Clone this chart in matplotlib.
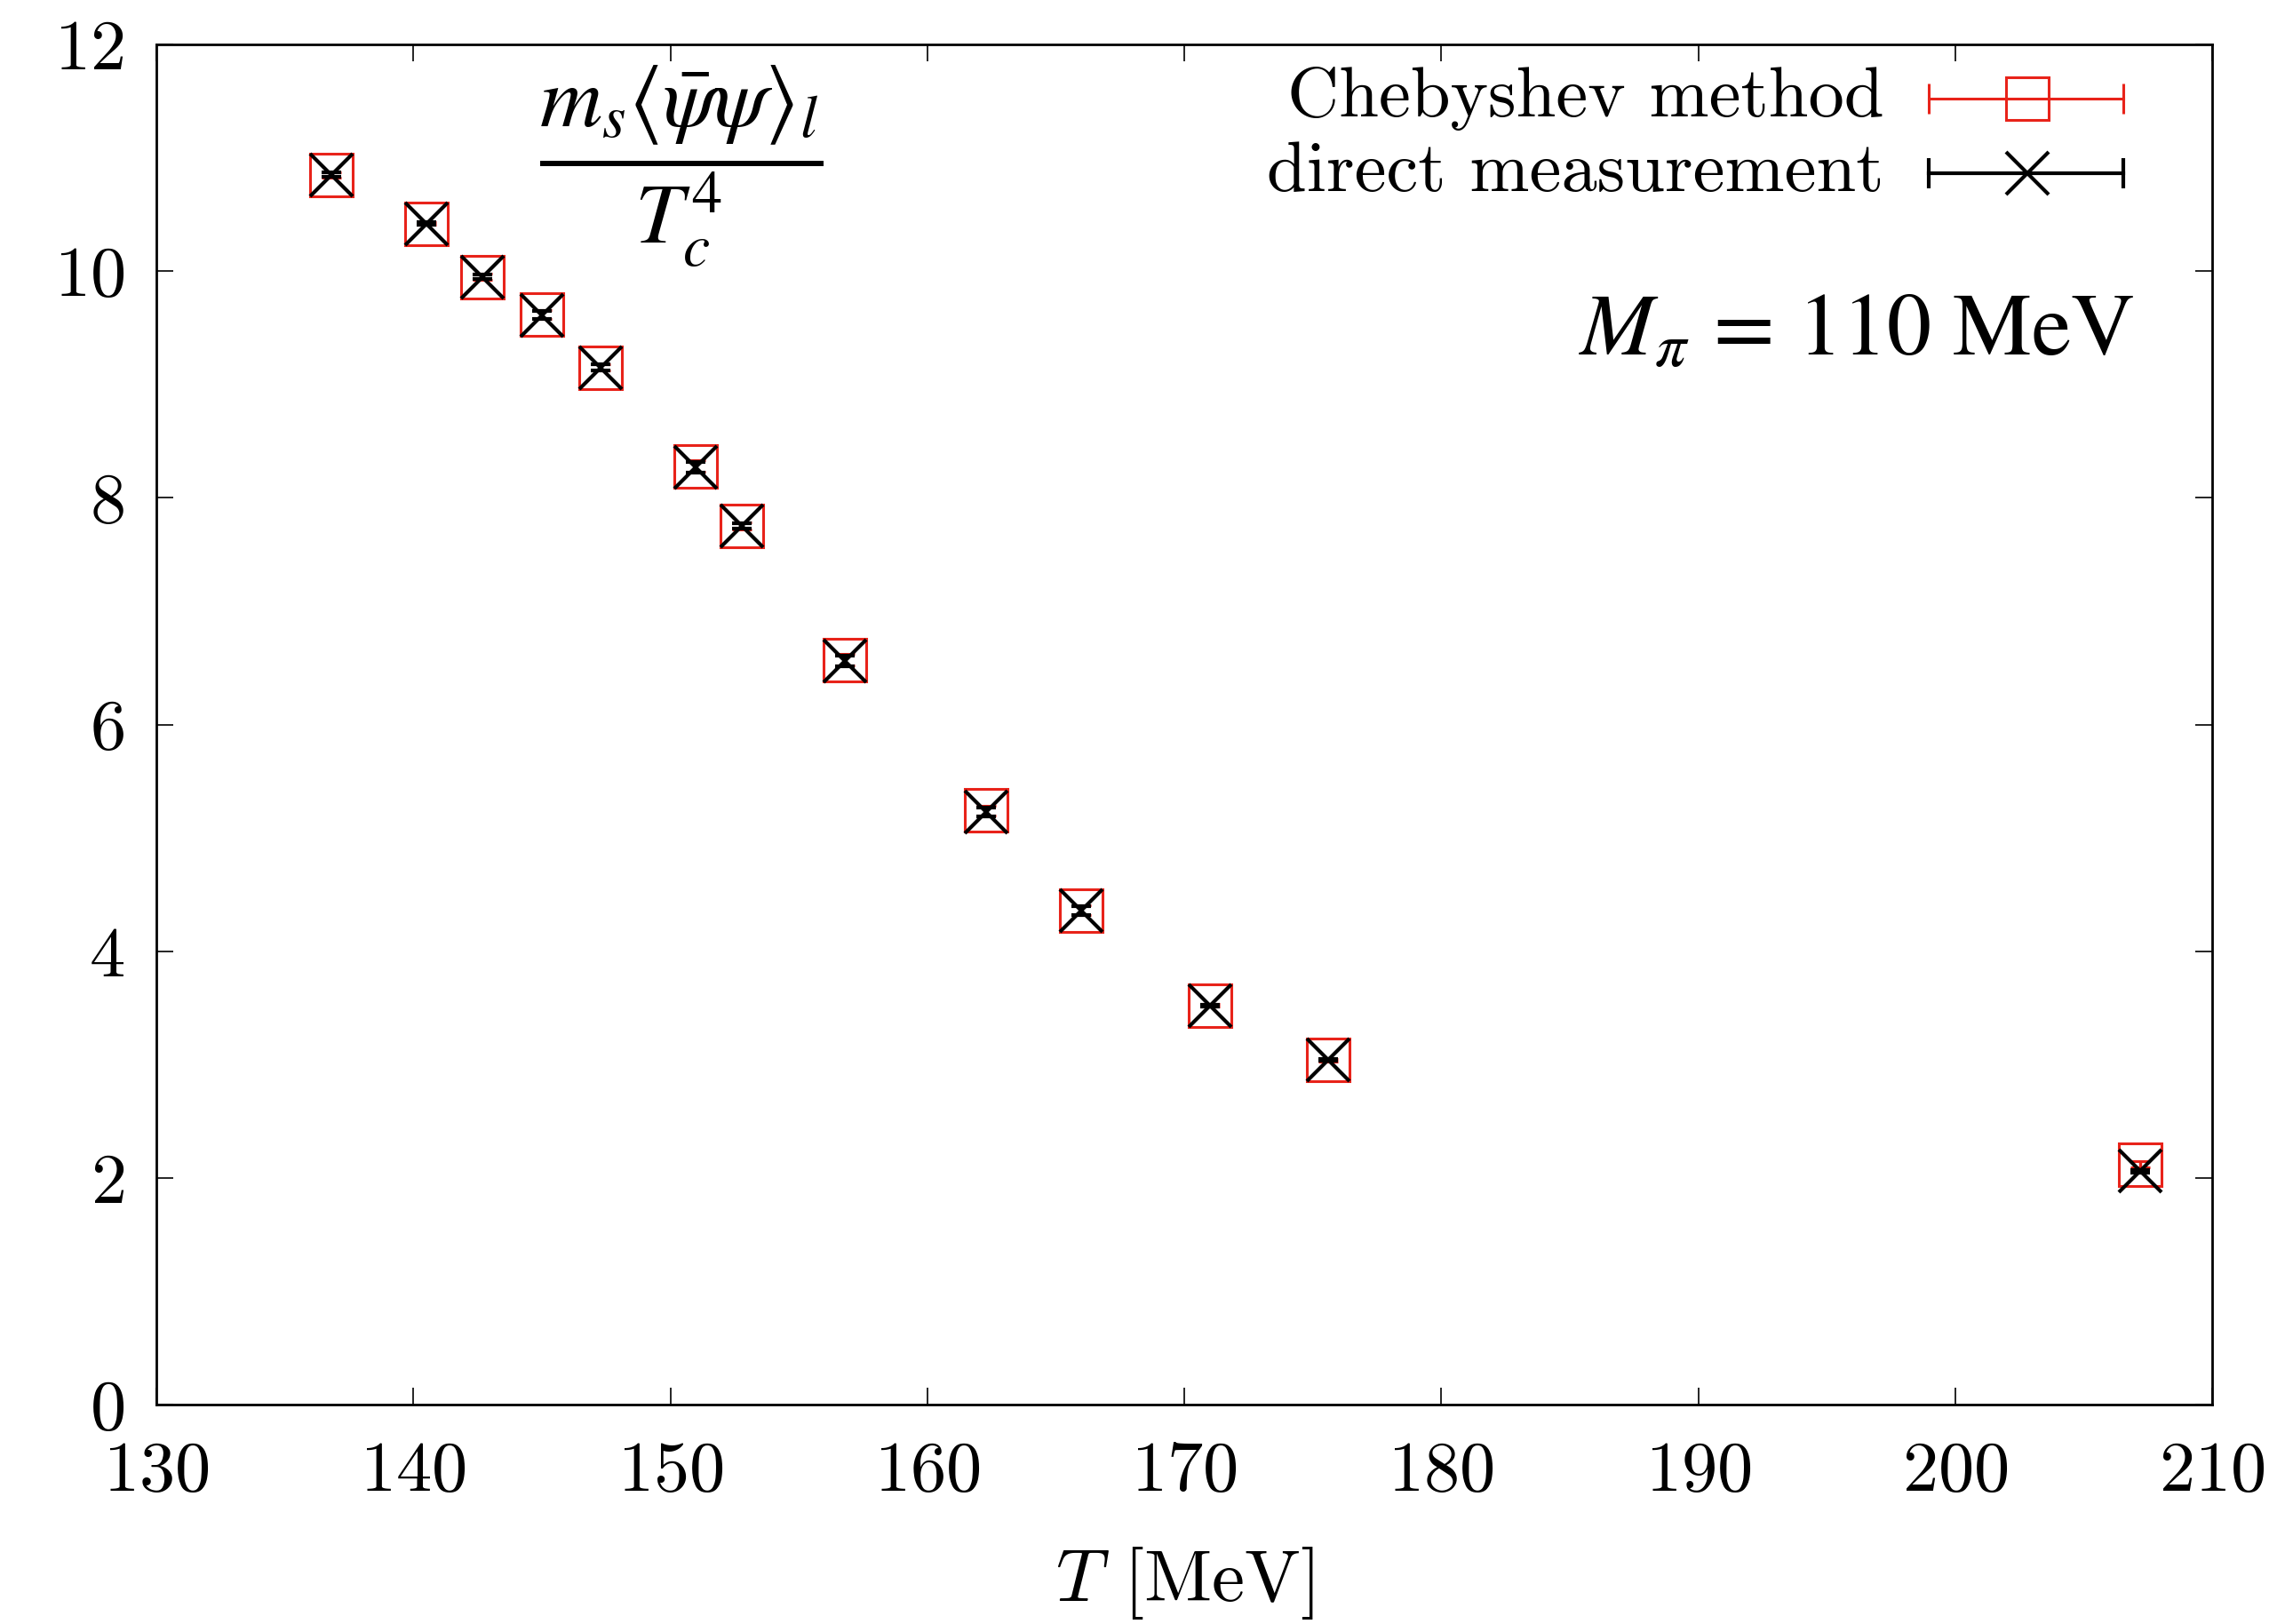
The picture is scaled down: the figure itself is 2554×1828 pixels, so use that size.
import numpy as np
import matplotlib
matplotlib.use("Agg")
import matplotlib.pyplot as plt

plt.rcParams['font.family'] = ['cmr10', 'DejaVu Serif']
plt.rcParams['mathtext.fontset'] = 'cm'
plt.rcParams['axes.formatter.use_mathtext'] = True

# temperatures [MeV]
T = [136.8, 140.5, 142.7, 145.0, 147.3, 151.0, 152.8, 156.8, 162.3, 166.0, 171.0, 175.6, 207.2]

# Chebyshev method
cheb = [10.85, 10.42, 9.95, 9.62, 9.15, 8.28, 7.75, 6.57, 5.24, 4.36, 3.52, 3.04, 2.12]
cheb_err = [0.025, 0.012, 0.025, 0.04, 0.03, 0.05, 0.03, 0.05, 0.045, 0.045, 0.012, 0.012, 0.03]

# direct measurement
direct = [10.85, 10.42, 9.95, 9.61, 9.15, 8.27, 7.75, 6.56, 5.23, 4.36, 3.52, 3.04, 2.06]
direct_err = [0.02, 0.01, 0.02, 0.035, 0.025, 0.045, 0.025, 0.045, 0.04, 0.04, 0.01, 0.01, 0.012]

red = '#e8231a'

fig = plt.figure(figsize=(12.77, 9.14), dpi=200)
ax = fig.add_axes([176 / 2554, 1 - 1581 / 1828, (2490 - 176) / 2554, (1581 - 50) / 1828])

ax.errorbar(T, cheb, yerr=cheb_err, fmt='s', ms=17, mfc='none', mec=red, mew=1.1,
            ecolor=red, elinewidth=1.2, capsize=4, capthick=1.2, zorder=3)
ax.errorbar(T, direct, yerr=direct_err, fmt='x', ms=17, mec='black', mew=1.5,
            ecolor='black', elinewidth=1.5, capsize=4, capthick=1.5, zorder=4)

ax.set_xlim(130, 210)
ax.set_ylim(0, 12)
ax.set_xticks(np.arange(130, 211, 10))
ax.set_yticks(np.arange(0, 13, 2))
ax.tick_params(direction='in', top=True, right=True, length=7, width=0.6,
               labelsize=29)
ax.tick_params(axis='x', pad=15)
ax.tick_params(axis='y', pad=13)
for s in ax.spines.values():
    s.set_linewidth(1.0)

ax.set_xlabel(r'$T$ [MeV]', fontsize=30)
ax.xaxis.set_label_coords(0.5, -0.103)

# gnuplot style key
keys = [("Chebyshev method", red, 's', 1.1, 0.960),
        ("direct measurement", 'black', 'x', 1.5, 0.905)]
for label, c, m, lw, yk in keys:
    ax.text(0.8405, yk, label, transform=ax.transAxes, ha='right', va='center',
            fontsize=29)
    ax.plot([0.862, 0.957], [yk, yk], color=c, lw=lw, transform=ax.transAxes,
            clip_on=False)
    ax.plot([0.862, 0.957], [yk, yk], ls='none', marker='|', ms=12, mew=lw,
            color=c, transform=ax.transAxes, clip_on=False)
    ax.plot([0.910], [yk], ls='none', marker=m, ms=17, mfc='none', mec=c, mew=lw,
            transform=ax.transAxes, clip_on=False)

ax.text(0.962, 0.772, r'$M_\pi\,=\,110\ \mathrm{MeV}$', transform=ax.transAxes,
        ha='right', va='baseline', fontsize=36, math_fontfamily='stix')
ax.text(0.255, 0.91, r'$\dfrac{m_s\langle\bar{\psi}\psi\rangle_l}{T_c^4}$',
        transform=ax.transAxes, ha='center', va='center', fontsize=35,
        math_fontfamily='stix')

fig.savefig('out.png', dpi=200)
